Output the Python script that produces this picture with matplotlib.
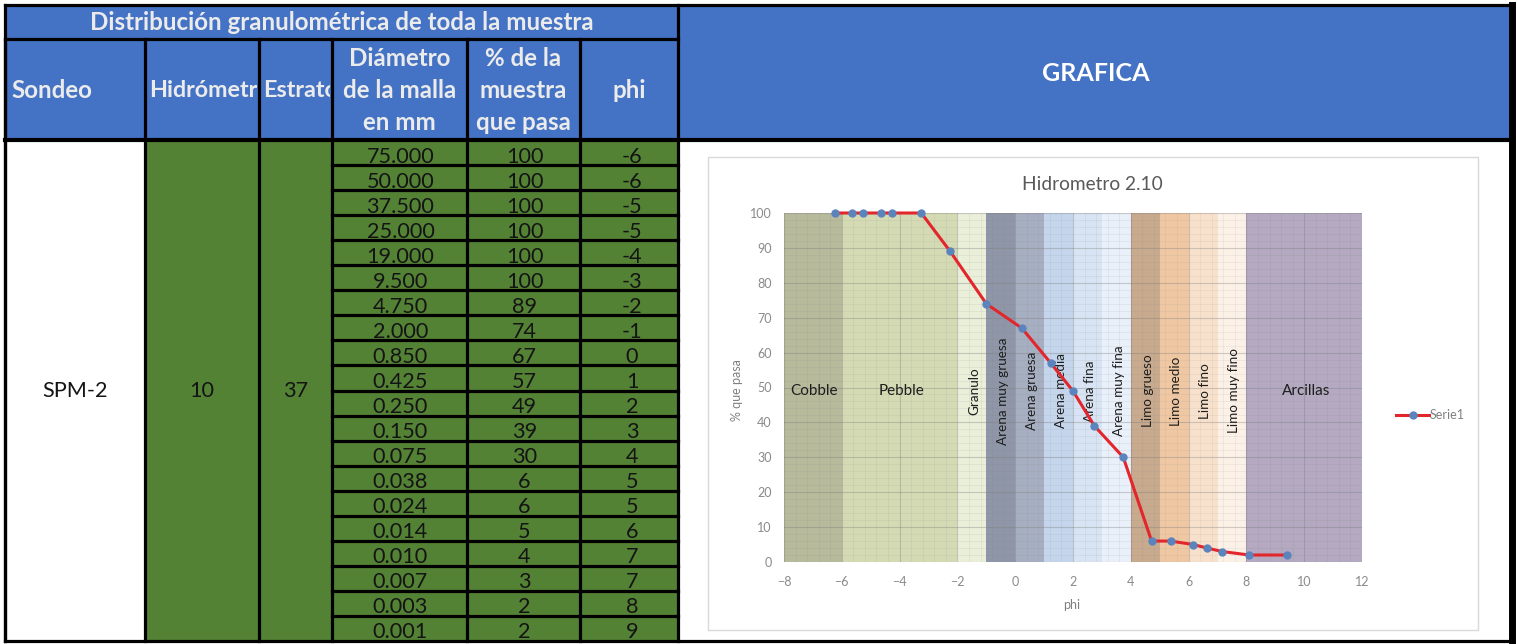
import matplotlib
matplotlib.use('Agg')
import matplotlib.pyplot as plt
from matplotlib.patches import Rectangle
from matplotlib.transforms import Bbox, TransformedBbox

plt.rcParams['font.family'] = ['Lato', 'DejaVu Sans']

# ---------------- data ----------------
table_title = "Distribución granulométrica de toda la muestra"
headers = ["Sondeo", "Hidrómetro", "Estrato",
           "Diámetro\nde la malla\nen mm", "% de la\nmuestra\nque pasa", "phi"]
grafica_header = "GRAFICA"
sondeo = "SPM-2"
hidrometro = "10"
estrato = "37"
diametro = ["75.000", "50.000", "37.500", "25.000", "19.000", "9.500", "4.750",
            "2.000", "0.850", "0.425", "0.250", "0.150", "0.075", "0.038",
            "0.024", "0.014", "0.010", "0.007", "0.003", "0.001"]
pct_pasa = [100, 100, 100, 100, 100, 100, 89, 74, 67, 57, 49, 39, 30, 6, 6, 5, 4, 3, 2, 2]
phi_tabla = [-6, -6, -5, -5, -4, -3, -2, -1, 0, 1, 2, 3, 4, 5, 5, 6, 7, 7, 8, 9]
# phi values as plotted in the chart
phi_grafica = [-6.25, -5.66, -5.25, -4.66, -4.26, -3.25, -2.25, -1.0, 0.23, 1.23,
               2.0, 2.74, 3.74, 4.72, 5.38, 6.16, 6.64, 7.16, 8.1, 9.4]
chart_title = "Hidrometro 2.10"
serie_name = "Serie1"
x_label = "phi"
y_label = "% que pasa"
band_edges = [-8, -6, -2, -1, 0, 1, 2, 3, 4, 5, 6, 7, 8, 12]
band_names = ["Cobble", "Pebble", "Granulo", "Arena muy gruesa", "Arena gruesa",
              "Arena media", "Arena fina", "Arena muy fina", "Limo grueso",
              "Limo medio", "Limo fino", "Limo muy fino", "Arcillas"]
band_colors = ["#b7ba9b", "#d4dab4", "#e9efd9", "#8f96a7", "#a6afc1", "#c4d5ec",
               "#d8e4f3", "#e9f0f9", "#c8aa8e", "#efc8a3", "#f8e1cc", "#fcf1e7",
               "#b4a9c1"]

# ---------------- figure ----------------
W, H = 1517, 644
fig = plt.figure(figsize=(W / 100, H / 100), dpi=100)
bg = fig.add_axes([0, 0, 1, 1])
bg.set_xlim(0, W)
bg.set_ylim(H, 0)
bg.axis('off')

BLUE = "#4472C4"
GREEN = "#548235"
HTXT = "#EBEBEB"
LW = 2.3

def rect(x0, y0, x1, y1, fc, ec='none', lw=0, z=1):
    bg.add_patch(Rectangle((x0, y0), x1 - x0, y1 - y0, facecolor=fc,
                           edgecolor=ec, linewidth=lw, zorder=z))

def hline(y, x0, x1, lw=LW):
    bg.plot([x0, x1], [y, y], color='black', lw=lw, zorder=3, solid_capstyle='projecting')

def vline(x, y0, y1, lw=LW):
    bg.plot([x, x], [y0, y1], color='black', lw=lw, zorder=3, solid_capstyle='projecting')

cols = [5, 145, 259, 332, 467, 580, 678]
top, y_title, y_head, bottom = 5, 38.5, 140, 641
right = 1512
row_h = (bottom - y_head) / len(diametro)

# fills
rect(cols[0], top, cols[-1], y_title, BLUE)
rect(cols[-1], top, right, y_head, BLUE)
rect(cols[0], y_title, cols[-1], y_head, BLUE)
rect(cols[0], y_head, cols[1], bottom, 'white')
rect(cols[1], y_head, cols[-1], bottom, GREEN)
rect(cols[-1], y_head, right, bottom, 'white')

# borders
hline(top, cols[0], right)
hline(y_title, cols[0], cols[-1])
hline(y_head, cols[0], right, lw=3)
hline(bottom, cols[0], right)
for x in cols[:-1]:
    vline(x, y_title, bottom)
vline(cols[0], top, bottom)
vline(cols[-1], top, bottom)
vline(right, top, bottom, lw=5)
for i in range(1, len(diametro)):
    hline(y_head + i * row_h, cols[3], cols[-1])

# header texts
FS_H = 17.4
bg.text((cols[0] + cols[-1]) / 2, 22, table_title, ha='center', va='center',
        fontsize=FS_H, fontweight='bold', color=HTXT, zorder=4)
bg.text(1096, 73, grafica_header, ha='center', va='center',
        fontsize=FS_H + 0.7, fontweight='bold', color='white', zorder=4)
bg.text(cols[0] + 6, 90, headers[0], ha='left', va='center',
        fontsize=FS_H, fontweight='bold', color=HTXT, zorder=4)
for k in (1, 2):
    t = bg.text(cols[k] + 4, 90, headers[k], ha='left', va='center',
                fontsize=FS_H - 0.6, fontweight='bold', color=HTXT, zorder=4)
    cb = TransformedBbox(Bbox.from_extents(cols[k], y_title, cols[k + 1] - 1.5, y_head),
                         bg.transData)
    t.set_clip_box(cb)
    t.set_clip_on(True)
for k in (3, 4, 5):
    lines = headers[k].split("\n")
    cx = (cols[k] + cols[k + 1]) / 2
    ys = [90] if len(lines) == 1 else [58, 90, 122]
    for s, yy in zip(lines, ys):
        bg.text(cx, yy, s, ha='center', va='center', fontsize=FS_H,
                fontweight='bold', color=HTXT, zorder=4)

# body texts
FS_D = 15.6
TXT = "#141414"
mid = (y_head + bottom) / 2
bg.text((cols[0] + cols[1]) / 2, mid, sondeo, ha='center', va='center', fontsize=FS_D, color=TXT, zorder=4)
bg.text((cols[1] + cols[2]) / 2, mid, hidrometro, ha='center', va='center', fontsize=FS_D, color=TXT, zorder=4)
bg.text((cols[2] + cols[3]) / 2, mid, estrato, ha='center', va='center', fontsize=FS_D, color=TXT, zorder=4)
for i, (d, p, f) in enumerate(zip(diametro, pct_pasa, phi_tabla)):
    yb = y_head + i * row_h + 22.5
    bg.text((cols[3] + cols[4]) / 2 + 1, yb, d, ha='center', va='baseline', fontsize=FS_D, color=TXT, zorder=4)
    bg.text((cols[4] + cols[5]) / 2 + 1, yb, str(p), ha='center', va='baseline', fontsize=FS_D, color=TXT, zorder=4)
    bg.text((cols[5] + cols[6]) / 2 + 3, yb, str(f), ha='center', va='baseline', fontsize=FS_D, color=TXT, zorder=4)

# chart box
rect(708, 157, 1478, 630, 'white', ec='#d9d9d9', lw=1, z=2)
bg.text(1092, 184, chart_title, ha='center', va='center', fontsize=13.8, color='#595959', zorder=4)
bg.text(1072, 605, x_label, ha='center', va='center', fontsize=9, color='#808080', zorder=4)
bg.text(737, 390, y_label, ha='center', va='center', fontsize=9, color='#808080',
        rotation=90, zorder=4)

# ---------------- chart ----------------
ax = fig.add_axes([784 / W, (H - 562) / H, 578 / W, 349 / H])
ax.set_xlim(band_edges[0], band_edges[-1])
ax.set_ylim(0, 100)
for a, b, c in zip(band_edges[:-1], band_edges[1:], band_colors):
    ax.axvspan(a, b, color=c, lw=0, zorder=0)
ax.set_xticks(range(-8, 13, 2))
ax.set_yticks(range(0, 101, 10))
ax.set_xticks([x / 5 for x in range(-40, 61, 2)], minor=True)
ax.set_yticks(range(0, 101, 2), minor=True)
ax.grid(which='major', color='#7a7a7a', alpha=0.35, lw=0.8, zorder=1)
ax.grid(which='minor', color='#7a7a7a', alpha=0.12, lw=0.5, zorder=1)
ax.set_axisbelow(True)
for s in ax.spines.values():
    s.set_visible(False)
ax.tick_params(which='both', length=0, colors='#8a8a8a', labelsize=9)
ax.tick_params(axis='y', pad=9)
ax.tick_params(axis='x', pad=10)

ax.plot(phi_grafica, pct_pasa, color='#E3262B', lw=2.2, marker='o', ms=5,
        mfc='#5B84BD', mec='#5B84BD', clip_on=False, zorder=5, label=serie_name)

# band labels
label_pos = {"Cobble": (-6.95, 49), "Pebble": (-3.95, 49), "Arcillas": (10.05, 49)}
for name in band_names:
    if name in label_pos:
        x, y = label_pos[name]
        ax.text(x, y, name, ha='center', va='center', fontsize=11, color='#1e1e1e', zorder=4)
for name, a, b in zip(band_names[2:12], band_edges[2:12], band_edges[3:13]):
    ax.text((a + b) / 2 + 0.08, 49, name, ha='center', va='center', rotation=90,
            fontsize=9.7, color='#1e1e1e', zorder=4)

ax.legend(loc='center left', bbox_to_anchor=(1390 / W, 1 - 415 / H),
          bbox_transform=fig.transFigure, frameon=False, fontsize=9,
          labelcolor='#808080', handlelength=2.6, handletextpad=0.1, borderpad=0)

fig.savefig('out.png', dpi=100)
